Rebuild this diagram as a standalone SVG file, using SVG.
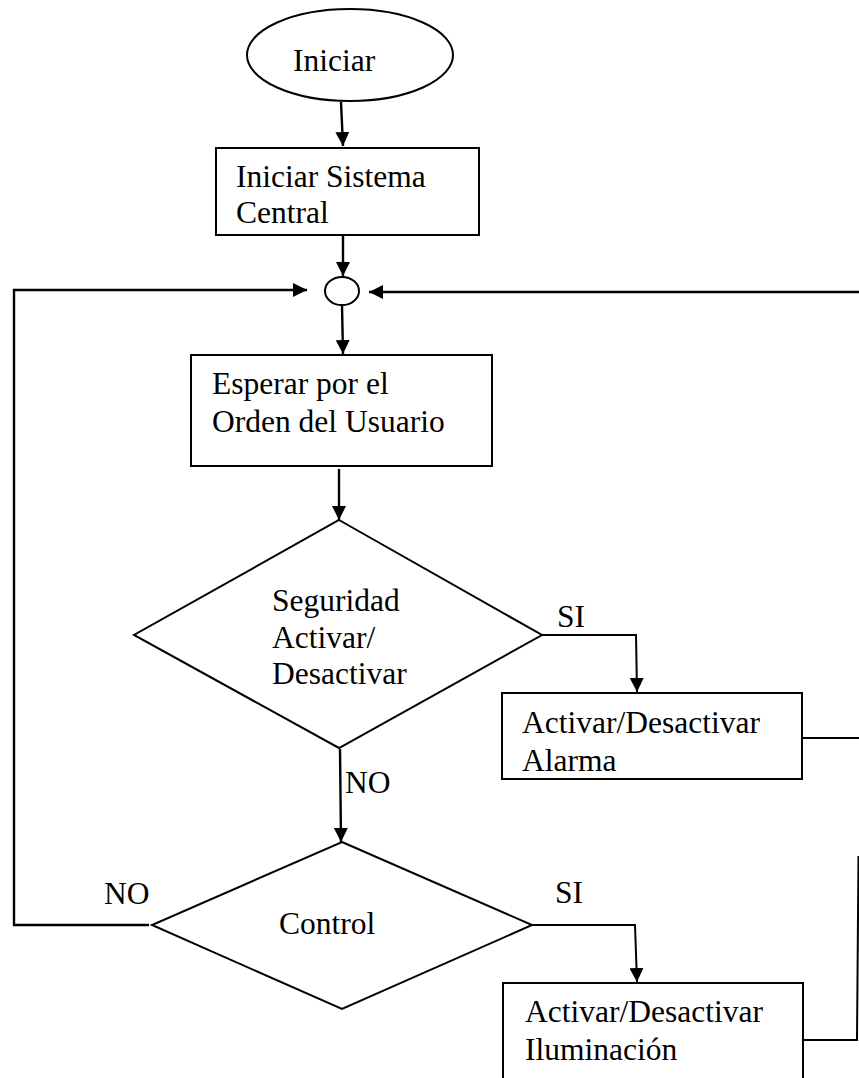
<svg xmlns="http://www.w3.org/2000/svg" width="859" height="1078" viewBox="0 0 859 1078">
  <defs>
    <style>
      .shape { fill: #fff; stroke: #000; stroke-width: 2; }
      .wire { fill: none; stroke: #000; stroke-width: 2.4; }
      .wire-thin { fill: none; stroke: #000; stroke-width: 2; }
      .lbl { font-family: "Liberation Serif", "Times New Roman", serif; font-size: 31.5px; fill: #000; }
    </style>
    <marker id="arrow" markerUnits="userSpaceOnUse" markerWidth="14" markerHeight="14" viewBox="0 0 14 14" refX="14" refY="7" orient="auto">
      <path d="M0,0 L14,7 L0,14 Z" fill="#000"/>
    </marker>
  </defs>

  <rect width="859" height="1078" fill="#fff"/>

  <!-- connectors -->
  <g id="connectors">
    <line class="wire" x1="341" y1="102" x2="343" y2="146" marker-end="url(#arrow)"/>
    <line class="wire" x1="343" y1="236" x2="343" y2="276" marker-end="url(#arrow)"/>
    <line class="wire" x1="342" y1="305" x2="343" y2="354" marker-end="url(#arrow)"/>
    <line class="wire" x1="339" y1="469" x2="339" y2="520" marker-end="url(#arrow)"/>
    <polyline class="wire-thin" points="542,635 636,635 637,692" marker-end="url(#arrow)"/>
    <line class="wire" x1="340" y1="749" x2="341" y2="842" marker-end="url(#arrow)"/>
    <polyline class="wire-thin" points="532,925 635,925 637,982" marker-end="url(#arrow)"/>
    <!-- NO branch of Control back to the junction -->
    <polyline class="wire" points="149,925 14,925 14,290 307,290" marker-end="url(#arrow)"/>
    <!-- return path along the right edge -->
    <line class="wire" x1="859" y1="292" x2="369" y2="292" stroke-width="3" marker-end="url(#arrow)"/>
    <line class="wire-thin" x1="802" y1="738" x2="859" y2="738"/>
    <polyline class="wire-thin" points="803,1040 857,1040 858.5,856"/>
  </g>

  <!-- start terminal -->
  <g id="node-iniciar">
    <ellipse class="shape" cx="350" cy="55" rx="103" ry="46"/>
    <text class="lbl" x="293" y="71">Iniciar</text>
  </g>

  <g id="node-sistema">
    <rect class="shape" x="216" y="148" width="263" height="87"/>
    <text class="lbl" x="236" y="187">Iniciar Sistema</text>
    <text class="lbl" x="236" y="223">Central</text>
  </g>

  <!-- junction -->
  <g id="node-junction">
    <ellipse class="shape" cx="342" cy="291" rx="17" ry="14"/>
  </g>

  <g id="node-esperar">
    <rect class="shape" x="191" y="355" width="301" height="111"/>
    <text class="lbl" x="212" y="394">Esperar por el</text>
    <text class="lbl" x="212" y="432">Orden del Usuario</text>
  </g>

  <g id="node-seguridad">
    <polygon class="shape" points="339,520 542,635 339,748 134,635"/>
    <text class="lbl" x="272" y="611">Seguridad</text>
    <text class="lbl" x="272" y="648">Activar/</text>
    <text class="lbl" x="272" y="684">Desactivar</text>
  </g>

  <g id="node-alarma">
    <rect class="shape" x="502" y="693" width="300" height="86"/>
    <text class="lbl" x="522" y="733">Activar/Desactivar</text>
    <text class="lbl" x="522" y="771">Alarma</text>
  </g>

  <g id="node-control">
    <polygon class="shape" points="342,842 532,925 342,1009 152,925"/>
    <text class="lbl" x="279" y="934">Control</text>
  </g>

  <g id="node-iluminacion">
    <rect class="shape" x="503" y="983" width="300" height="110"/>
    <text class="lbl" x="525" y="1022">Activar/Desactivar</text>
    <text class="lbl" x="525" y="1060">Iluminación</text>
  </g>

  <!-- branch labels -->
  <g id="labels">
    <text class="lbl" x="557" y="627">SI</text>
    <text class="lbl" x="345" y="793">NO</text>
    <text class="lbl" x="104" y="904">NO</text>
    <text class="lbl" x="555" y="903">SI</text>
  </g>
</svg>
